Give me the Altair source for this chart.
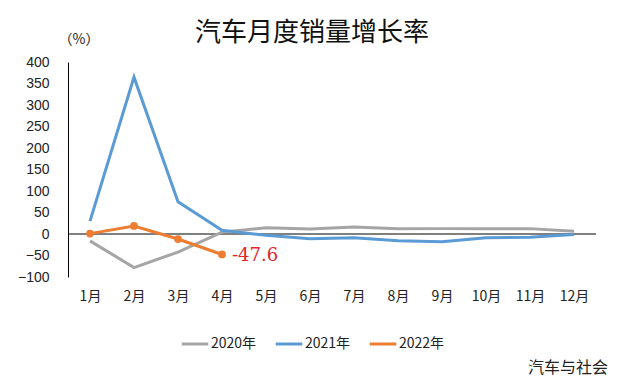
import altair as alt
import pandas as pd

months = ["1月", "2月", "3月", "4月", "5月", "6月", "7月", "8月", "9月", "10月", "11月", "12月"]
series_names = ["2020年", "2021年", "2022年"]
colors = ["#A5A5A5", "#5B9BD5", "#ED7D31"]
y2020 = [-16.0, -78.0, -42.0, 4.4, 14.5, 11.5, 16.5, 12.0, 12.5, 12.5, 12.5, 6.4]
y2021 = [29.9, 364.8, 74.9, 8.8, -3.1, -11.0, -8.5, -15.5, -18.0, -8.5, -7.5, -1.0]
y2022 = [0.9, 18.7, -11.7, -47.6]
y_ticks = [400, 350, 300, 250, 200, 150, 100, 50, 0, -50, -100]

rows = []
for name, vals in zip(series_names, [y2020, y2021, y2022]):
    for i, (m, v) in enumerate(zip(months, vals)):
        rows.append({"month": m, "idx": i, "series": name, "value": v})
df = pd.DataFrame(rows)
df_2022 = df[df["series"] == "2022年"]
df_last = df_2022[df_2022["month"] == "4月"].assign(label="-47.6")

CJK = "Noto Sans CJK SC"

x_axis = alt.Axis(title=None, domain=False, ticks=False, labelAngle=0,
                  labelFont=CJK, labelFontSize=14, labelColor="#222222",
                  labelPadding=12)
x_enc = alt.X("month:N", sort=months, scale=alt.Scale(type="point", padding=0.5),
              axis=x_axis)
y_scale = alt.Scale(domain=[-100, 400], nice=False, zero=False)
y_axis = alt.Axis(values=y_ticks, tickCount=11, grid=False, ticks=False, domain=True,
                  domainColor="#000000", domainWidth=1, labelOverlap=False,
                  labelFont="Liberation Sans", labelFontSize=14,
                  labelColor="#222222", labelPadding=19,
                  title="（%）", titleAngle=0, titleX=-10, titleY=-19,
                  titleAlign="left", titleBaseline="alphabetic",
                  titleFont=CJK, titleFontSize=14, titleFontWeight="normal",
                  titleColor="#222222")
y_enc = alt.Y("value:Q", scale=y_scale, axis=y_axis)
color_enc = alt.Color("series:N",
                      scale=alt.Scale(domain=series_names, range=colors),
                      legend=alt.Legend(title=None, orient="none", direction="horizontal",
                                        legendX=112, legendY=267,
                                        symbolType="stroke", symbolSize=700,
                                        symbolStrokeWidth=3, labelFont=CJK,
                                        labelFontSize=14, labelColor="#222222",
                                        labelOffset=1, columnPadding=12))

zero = alt.Chart(pd.DataFrame({"value": [0]})).mark_rule(color="#000000", strokeWidth=1).encode(
    y=y_enc)

lines = alt.Chart(df).mark_line(strokeWidth=3).encode(
    x=x_enc, y=y_enc, color=color_enc, order=alt.Order("idx:Q"))

pts = alt.Chart(df_2022).mark_circle(size=60, opacity=1).encode(
    x=x_enc, y=y_enc,
    color=alt.Color("series:N", scale=alt.Scale(domain=series_names, range=colors), legend=None))

label = alt.Chart(df_last).mark_text(align="left", baseline="middle", dx=10, dy=2,
                                     font="DejaVu Serif", fontSize=18,
                                     color="#E4232B").encode(
    x=x_enc, y=y_enc, text="label:N")

title = alt.Chart(pd.DataFrame({"t": ["汽车月度销量增长率"]})).mark_text(
    font=CJK, fontSize=26, align="center", baseline="alphabetic", color="#111111"
).encode(x=alt.value(244), y=alt.value(-21), text="t:N")

source = alt.Chart(pd.DataFrame({"t": ["汽车与社会"]})).mark_text(
    font=CJK, fontSize=16, align="right", baseline="alphabetic", color="#222222"
).encode(x=alt.value(540), y=alt.value(311), text="t:N")

chart = alt.layer(zero, lines, pts, label, title, source).properties(
    width=528, height=215,
    autosize=alt.AutoSizeParams(type="none"),
    padding={"left": 60, "top": 54, "right": 24, "bottom": 101},
    background="#ffffff",
).configure_view(stroke=None)

chart.save("out.html", embed_options={"renderer": "svg", "actions": False})
